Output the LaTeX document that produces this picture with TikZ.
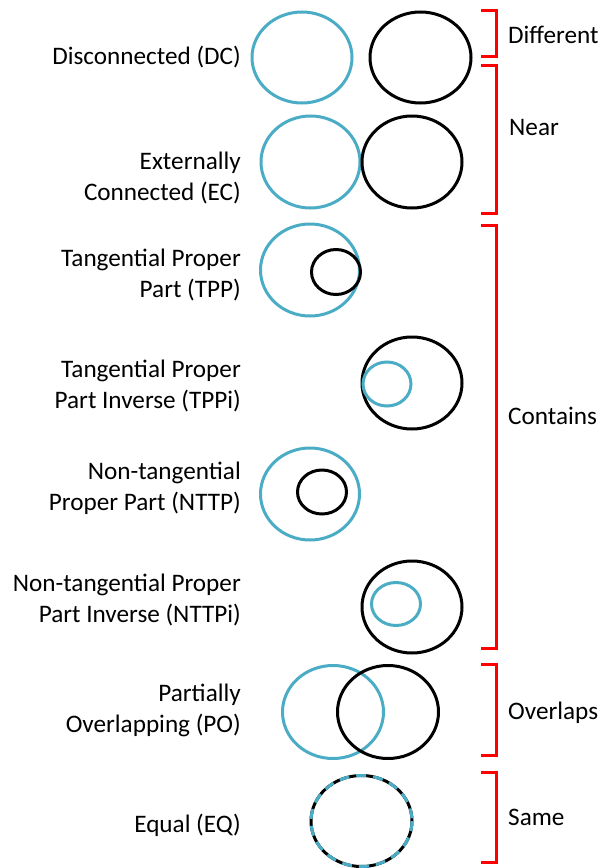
\documentclass[tikz,border=0pt]{standalone}
\usepackage{fontspec}
\setmainfont{Carlito}
\begin{document}
\begin{tikzpicture}[x=1bp,y=-1bp,
  lbl/.style={anchor=east,align=right,inner sep=0pt,font=\fontsize{25.2bp}{31bp}\selectfont},
  grp/.style={anchor=west,inner sep=0pt,font=\fontsize{25.2bp}{31bp}\selectfont},
  bc/.style={draw=cblue,line width=3bp},
  kc/.style={draw=black,line width=3bp},
  brk/.style={draw=red,line width=3bp}]
\definecolor{cblue}{RGB}{75,172,198}
\useasboundingbox (0,0) rectangle (611,868);
% labels
\node[lbl] (ldc) at (241,57) {Disconnected (DC)};
\node[lbl] (lec) at (241,178) {Externally\\Connected (EC)};
\node[lbl] (ltpp) at (241,275) {Tangential Proper\\Part (TPP)};
\node[lbl] (ltppi) at (241,386) {Tangential Proper\\Part Inverse (TPPi)};
\node[lbl] (lnttp) at (241,488) {Non-tangential\\Proper Part (NTTP)};
\node[lbl] (lnttpi) at (241,600) {Non-tangential Proper\\Part Inverse (NTTPi)};
\node[lbl] (lpo) at (241,710) {Partially\\Overlapping (PO)};
\node[lbl] (leq) at (241,825) {Equal (EQ)};
% circles
\draw[bc] (302,57.5) ellipse [x radius=50,y radius=45.5];
\draw[kc] (420.5,57.5) ellipse [x radius=50.5,y radius=45.5];
\draw[bc] (310.5,162) ellipse [x radius=49.5,y radius=46];
\draw[kc] (412,162) ellipse [x radius=50,y radius=46];
\draw[bc] (310,270) ellipse [x radius=49.5,y radius=46];
\draw[kc] (336,272) ellipse [x radius=24.5,y radius=22.5];
\draw[kc] (412,383) ellipse [x radius=50,y radius=46];
\draw[bc] (387,384) ellipse [x radius=24,y radius=22];
\draw[bc] (310,494) ellipse [x radius=49.5,y radius=46];
\draw[kc] (322,492) ellipse [x radius=24.5,y radius=22];
\draw[kc] (412,607) ellipse [x radius=50,y radius=46];
\draw[bc] (396,604) ellipse [x radius=24.5,y radius=21.5];
\draw[bc] (333,712) ellipse [x radius=50.5,y radius=46.5];
\draw[kc] (388,712) ellipse [x radius=50.5,y radius=46.5];
\draw[kc] (361.5,821) ellipse [x radius=50.5,y radius=45.5];
\draw[bc,dash pattern=on 10bp off 7bp] (361.5,821) ellipse [x radius=50.5,y radius=45.5];
% brackets
\coordinate (b1a) at (481,10); \coordinate (b1b) at (481,56);
\draw[brk] (b1a) -- (496,10) -- (496,56) -- (b1b);
\coordinate (b2a) at (481,65); \coordinate (b2b) at (481,213);
\draw[brk] (b2a) -- (496,65) -- (496,213) -- (b2b);
\coordinate (b3a) at (481,225); \coordinate (b3b) at (481,648);
\draw[brk] (b3a) -- (496,225) -- (496,648) -- (b3b);
\coordinate (b4a) at (481,664); \coordinate (b4b) at (481,755);
\draw[brk] (b4a) -- (496,664) -- (496,755) -- (b4b);
\coordinate (b5a) at (481,772); \coordinate (b5b) at (481,862);
\draw[brk] (b5a) -- (496,772) -- (496,862) -- (b5b);
% group labels
\node[grp] (gdiff) at (508,35) {Different};
\node[grp] (gnear) at (509,128) {Near};
\node[grp] (gcont) at (508,416) {Contains};
\node[grp] (gover) at (508,713) {Overlaps};
\node[grp] (gsame) at (508,817) {Same};
\end{tikzpicture}
\end{document}
